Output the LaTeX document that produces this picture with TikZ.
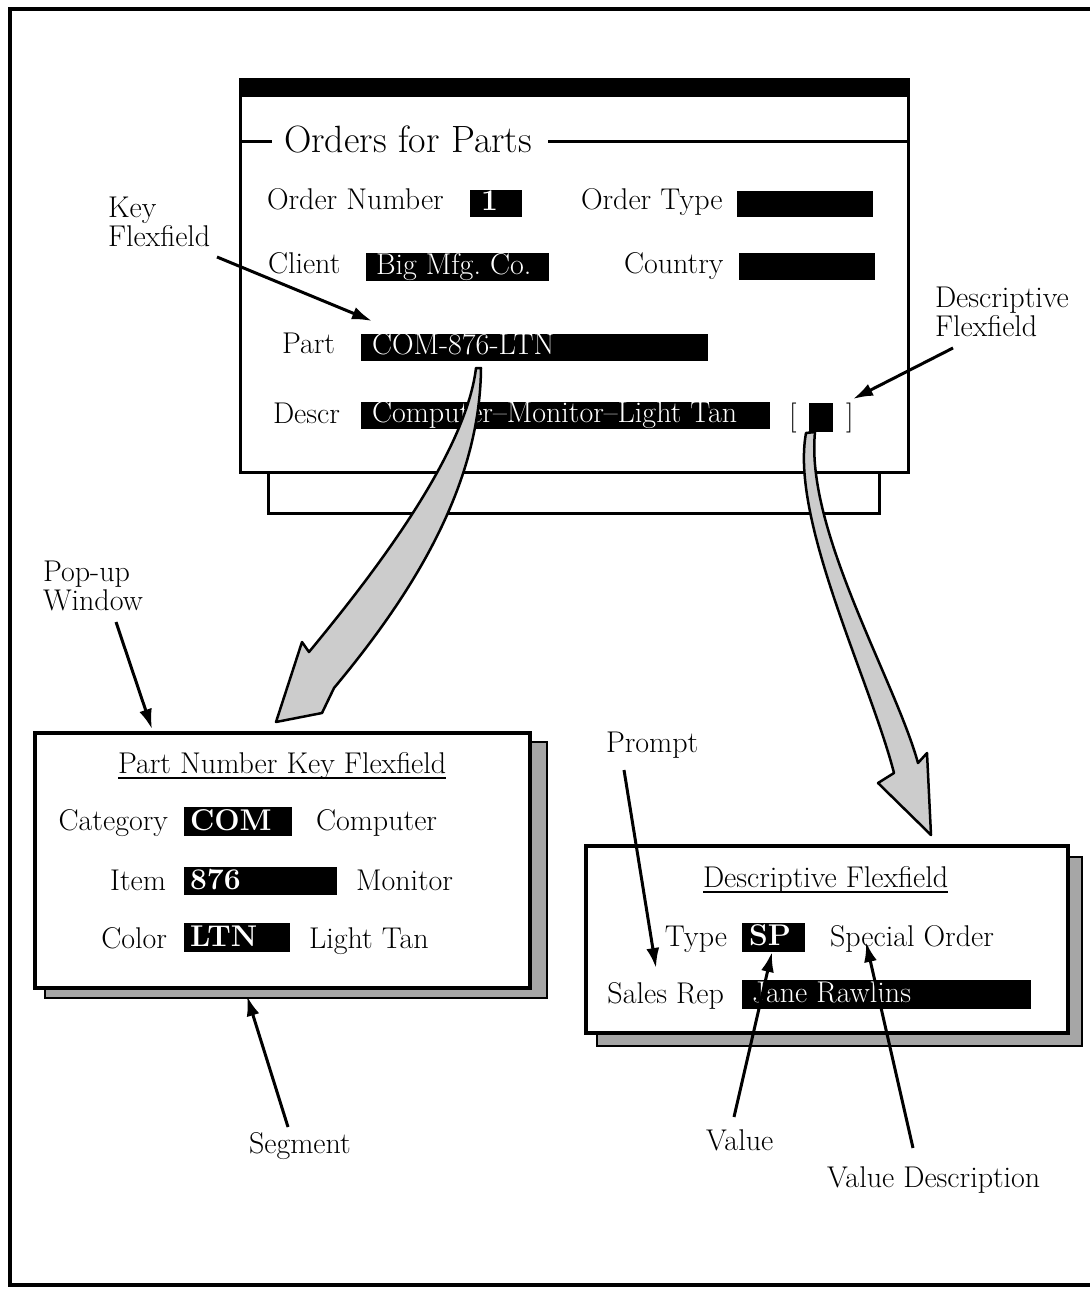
\documentclass[tikz,border=0pt]{standalone}
\usetikzlibrary{arrows.meta}
\newcommand\txtsize{\fontsize{30}{35}\selectfont}
\newcommand\grpsize{\fontsize{38}{44}\selectfont}
\frenchspacing
\begin{document}
\begin{tikzpicture}[x=1pt,y=-1pt,
  every node/.style={inner sep=0pt, outer sep=0pt, font=\txtsize},
  lbl/.style={anchor=base west},
  lble/.style={anchor=base east},
  inv/.style={anchor=base west, text=white},
  invb/.style={anchor=base west, text=white, font=\txtsize\bfseries},
  win/.style={draw=black, fill=white, line width=3pt},
  pop/.style={draw=black, fill=white, line width=4pt},
  shade/.style={draw=black, line width=1.2pt, fill=black!35},
  bigarrow/.style={draw=black, line width=2.5pt, fill=black!20, line join=round},
  callout/.style={line width=3pt, -{Latex[length=20pt,width=13pt]}},
  uline/.style={line width=1.6pt},
]
\useasboundingbox (0,0) rectangle (1089,1297);
\fill[white] (0,0) rectangle (1089,1297);

% outer frame (open on the right)
\draw[line width=4pt] (1095,9) -- (10,9) -- (10,1285) -- (1095,1285);

% ---------- main form with the window stacked behind it ----------
\draw[win] (268,455) rectangle (879,513);
\draw[win] (240,80) rectangle (908,472);
\fill[black] (240,80) rectangle (908,97);

% group box heading
\node[lbl, font=\grpsize] (grp) at (284,153) {Orders for Parts};
\draw[line width=3pt] (240,142) -- (272,142);
\draw[line width=3pt] (548,142) -- (908,142);

% row 1
\node[lbl] (onumL) at (267,210) {Order Number};
\fill (470,190) rectangle (522,217);
\node[invb] (onumV) at (481,211) {1};
\node[lbl] (otypeL) at (581,210) {Order Type};
\fill (737,191) rectangle (873,217);
% row 2
\node[lbl] (clientL) at (268,273) {Client};
\fill (366,253) rectangle (549,281);
\node[inv] (clientV) at (376,274) {Big Mfg. Co.};
\node[lbl] (countryL) at (624,273) {Country};
\fill (739,253) rectangle (875,280);
% row 3
\node[lbl] (partL) at (282,353) {Part};
\fill (361,334) rectangle (708,361);
\node[inv] (partV) at (372,354) {COM-876-LTN};
% row 4
\node[lbl] (descrL) at (273,423) {Descr};
\fill (361,402) rectangle (770,429);
\node[inv] (descrV) at (372,422) {Computer--Monitor--Light Tan};
\node[lbl] (brL) at (789,425) {[};
\fill (809,403) rectangle (833,432);
\node[lbl] (brR) at (846,425) {]};

% ---------- big shaded arrows to the pop-up windows ----------
\filldraw[bigarrow] (476,368) -- (481,368)
  .. controls (480,480) and (420,585) .. (334,688)
  -- (322,713) -- (276,722) -- (302,642) -- (309,652)
  .. controls (360,590) and (465,460) .. (476,368)
  -- cycle;

\filldraw[bigarrow] (815,432) -- (806,433)
  .. controls (790,520) and (870,680) .. (894,773)
  -- (878,783) -- (931,835) -- (927,753) -- (918,763)
  .. controls (895,680) and (805,530) .. (815,432)
  -- cycle;

% ---------- pop-up: key flexfield ----------
\draw[shade] (45,742) rectangle (547,998);
\draw[pop] (35,733) rectangle (530,988);
\node[lbl] (kfTitle) at (118,773) {Part Number Key Flexfield};
\draw[uline] ([yshift=-5pt]kfTitle.base west) -- ([yshift=-5pt]kfTitle.base east);
\node[lble] (catL) at (168,830) {Category};
\fill (184,807) rectangle (292,836);
\node[invb] (catV) at (190,830) {COM};
\node[lbl] (catD) at (316,830) {Computer};
\node[lble] (itemL) at (166,890) {Item};
\fill (184,867) rectangle (337,895);
\node[invb] (itemV) at (190,889) {876};
\node[lbl] (itemD) at (356,890) {Monitor};
\node[lble] (colL) at (167,948) {Color};
\fill (184,923) rectangle (290,952);
\node[invb] (colV) at (190,946) {LTN};
\node[lbl] (colD) at (309,948) {Light Tan};

% ---------- pop-up: descriptive flexfield ----------
\draw[shade] (597,857) rectangle (1082,1046);
\draw[pop] (586,846) rectangle (1068,1033);
\node[lbl] (dfTitle) at (703,887) {Descriptive Flexfield};
\draw[uline] ([yshift=-5pt]dfTitle.base west) -- ([yshift=-5pt]dfTitle.base east);
\node[lble] (typeL) at (727,946) {Type};
\fill (742,923) rectangle (805,952);
\node[invb] (typeV) at (749,945) {SP};
\node[lbl] (typeD) at (830,946) {Special Order};
\node[lble] (repL) at (724,1003) {Sales Rep};
\fill (742,980) rectangle (1031,1009);
\node[inv] (repV) at (752,1002) {Jane Rawlins};

% ---------- captions ----------
\node[lbl] (keyA) at (108,218) {Key};
\node[lbl] (keyB) at (108,247) {Flexfield};
\node[lbl] (descA) at (935,307) {Descriptive};
\node[lbl] (descB) at (935,336) {Flexfield};
\node[lbl] (popA) at (43,581) {Pop-up};
\node[lbl] (popB) at (43,610) {Window};
\node[lbl] (prompt) at (606,752) {Prompt};
\node[lbl] (segment) at (249,1153) {Segment};
\node[lbl] (value) at (706,1150) {Value};
\node[lbl] (valdesc) at (827,1187) {Value Description};

% ---------- callout arrows ----------
\coordinate (kfS) at (217,257);   \coordinate (kfT) at (372,321);
\coordinate (dfS) at (953,348);   \coordinate (dfT) at (853,399);
\coordinate (pwS) at (116,622);   \coordinate (pwT) at (152,729);
\coordinate (sgS) at (288,1127);  \coordinate (sgT) at (247,996);
\coordinate (prS) at (624,770);   \coordinate (prT) at (656,968);
\coordinate (vaS) at (734,1117);  \coordinate (vaT) at (772,952);
\coordinate (vdS) at (913,1148);  \coordinate (vdT) at (866,942);
\draw[callout] (kfS) -- (kfT);
\draw[callout] (dfS) -- (dfT);
\draw[callout] (pwS) -- (pwT);
\draw[callout] (sgS) -- (sgT);
\draw[callout] (prS) -- (prT);
\draw[callout] (vaS) -- (vaT);
\draw[callout] (vdS) -- (vdT);
\end{tikzpicture}
\end{document}
